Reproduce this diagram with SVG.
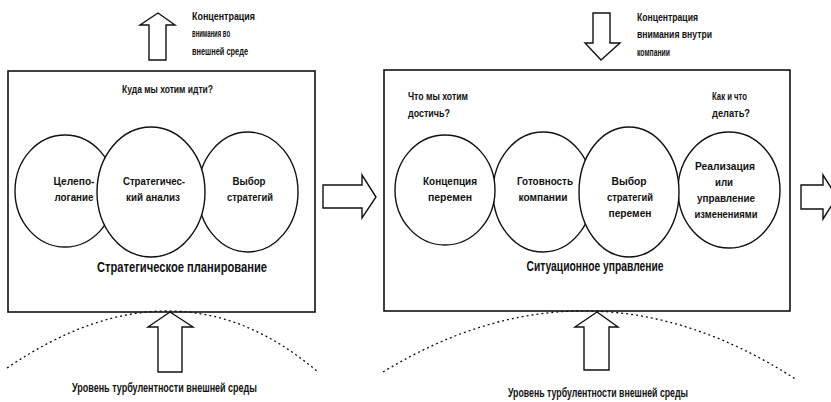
<svg xmlns="http://www.w3.org/2000/svg" width="831" height="402" viewBox="0 0 831 402">
  <style>
    .frame { fill: #fff; stroke: #111; stroke-width: 1.6; }
    .oval { fill: #fff; stroke: #111; stroke-width: 1.4; }
    .arrow { fill: #fff; stroke: #111; stroke-width: 1.4; stroke-linejoin: miter; }
    .wave { fill: none; stroke: #111; stroke-width: 1.3; stroke-dasharray: 2 3; }
    text { font-family: "Liberation Sans Narrow", "Liberation Sans", Arial, sans-serif; font-weight: bold; fill: #111; }
    .note { font-size: 11px; }
    .lbl { font-size: 11.5px; text-anchor: middle; }
    .q { font-size: 11.5px; }
    .title { font-size: 14px; text-anchor: middle; }
    .foot { font-size: 12px; text-anchor: middle; }
  </style>

  <rect width="831" height="402" fill="#fff"/>

  <!-- Strategic planning block -->
  <g id="planning">
    <rect class="frame" x="8" y="71" width="307" height="241"/>
    <text class="q" x="167.5" y="93" text-anchor="middle" textLength="91" lengthAdjust="spacingAndGlyphs">Куда мы хотим идти?</text>
    <g id="goal-setting">
      <ellipse class="oval" cx="65" cy="191" rx="50" ry="56"/>
      <text class="lbl" x="74" y="185" textLength="41" lengthAdjust="spacingAndGlyphs">Целепо-</text>
      <text class="lbl" x="74" y="201" textLength="39" lengthAdjust="spacingAndGlyphs">логание</text>
    </g>
    <g id="strategy-choice">
      <ellipse class="oval" cx="248" cy="192" rx="50" ry="60"/>
      <text class="lbl" x="249" y="185" textLength="33" lengthAdjust="spacingAndGlyphs">Выбор</text>
      <text class="lbl" x="250" y="201" textLength="46" lengthAdjust="spacingAndGlyphs">стратегий</text>
    </g>
    <g id="strategic-analysis">
      <ellipse class="oval" cx="151" cy="192" rx="54" ry="65"/>
      <text class="lbl" x="154" y="185" textLength="62" lengthAdjust="spacingAndGlyphs">Стратегичес-</text>
      <text class="lbl" x="153" y="201" textLength="54" lengthAdjust="spacingAndGlyphs">кий анализ</text>
    </g>
    <text class="title" x="182" y="272" textLength="170" lengthAdjust="spacingAndGlyphs">Стратегическое планирование</text>
  </g>

  <!-- Situational management block -->
  <g id="situational">
    <rect class="frame" x="384" y="70" width="406" height="241"/>
    <text class="q" x="408" y="100" textLength="60" lengthAdjust="spacingAndGlyphs">Что мы хотим</text>
    <text class="q" x="408" y="117" textLength="42" lengthAdjust="spacingAndGlyphs">достичь?</text>
    <text class="q" x="712" y="100" textLength="35" lengthAdjust="spacingAndGlyphs">Как и что</text>
    <text class="q" x="712" y="117" textLength="38" lengthAdjust="spacingAndGlyphs">делать?</text>
    <g id="readiness">
      <ellipse class="oval" cx="543" cy="192" rx="50" ry="60"/>
      <text class="lbl" x="545" y="185" textLength="56" lengthAdjust="spacingAndGlyphs">Готовность</text>
      <text class="lbl" x="543" y="201" textLength="49" lengthAdjust="spacingAndGlyphs">компании</text>
    </g>
    <g id="implementation">
      <ellipse class="oval" cx="729" cy="190" rx="51" ry="58"/>
      <text class="lbl" x="725" y="170" textLength="60" lengthAdjust="spacingAndGlyphs">Реализация</text>
      <text class="lbl" x="724" y="186" textLength="18" lengthAdjust="spacingAndGlyphs">или</text>
      <text class="lbl" x="726" y="202" textLength="58" lengthAdjust="spacingAndGlyphs">управление</text>
      <text class="lbl" x="726" y="218" textLength="63" lengthAdjust="spacingAndGlyphs">изменениями</text>
    </g>
    <g id="change-concept">
      <ellipse class="oval" cx="445" cy="190" rx="50" ry="55"/>
      <text class="lbl" x="450" y="185" textLength="54" lengthAdjust="spacingAndGlyphs">Концепция</text>
      <text class="lbl" x="450" y="201" textLength="44" lengthAdjust="spacingAndGlyphs">перемен</text>
    </g>
    <g id="change-strategy">
      <ellipse class="oval" cx="629" cy="192" rx="50" ry="65"/>
      <text class="lbl" x="629" y="185" textLength="35" lengthAdjust="spacingAndGlyphs">Выбор</text>
      <text class="lbl" x="630" y="201" textLength="46" lengthAdjust="spacingAndGlyphs">стратегий</text>
      <text class="lbl" x="630" y="217" textLength="43" lengthAdjust="spacingAndGlyphs">перемен</text>
    </g>
    <text class="title" x="595" y="271" textLength="137" lengthAdjust="spacingAndGlyphs">Ситуационное управление</text>
  </g>

  <!-- dotted arcs: turbulence of the environment -->
  <path class="wave" d="M7,368 Q177.5,252 318,372"/>
  <path class="wave" d="M383,372 Q590,246 797,380"/>

  <!-- block arrows -->
  <g id="connectors">
    <!-- attention outward -->
    <polygon class="arrow" points="158,13 175,25 166,25 166,60 149,60 149,25 140,25"/>
    <!-- attention inward -->
    <polygon class="arrow" points="593,13 610,13 610,43 620,43 601,60 585,43 593,43"/>
    <!-- planning to situational management -->
    <polygon class="arrow" points="323,185 362,185 362,175 376,197 362,218 362,208 323,208"/>
    <!-- onward -->
    <polygon class="arrow" points="801,185 823,185 823,175 837,197 823,219 823,209 801,209"/>
    <!-- turbulence pressure -->
    <polygon class="arrow" points="170,312 193,327 182,327 182,372 158,372 158,327 148,327"/>
    <polygon class="arrow" points="597,312 618,327 609,327 609,370 584,370 584,327 575,327"/>
  </g>

  <!-- side notes -->
  <g id="notes">
    <text class="note" x="192" y="20" textLength="63" lengthAdjust="spacingAndGlyphs">Концентрация</text>
    <text class="note" x="192" y="37" textLength="38" lengthAdjust="spacingAndGlyphs">внимания во</text>
    <text class="note" x="192" y="55" textLength="56" lengthAdjust="spacingAndGlyphs">внешней среде</text>
    <text class="note" x="637" y="21" textLength="61" lengthAdjust="spacingAndGlyphs">Концентрация</text>
    <text class="note" x="637" y="38" textLength="75" lengthAdjust="spacingAndGlyphs">внимания внутри</text>
    <text class="note" x="637" y="56" textLength="33" lengthAdjust="spacingAndGlyphs">компании</text>
    <text class="foot" x="164.5" y="392" textLength="185" lengthAdjust="spacingAndGlyphs">Уровень турбулентности внешней среды</text>
    <text class="foot" x="598" y="397" textLength="180" lengthAdjust="spacingAndGlyphs">Уровень турбулентности внешней среды</text>
  </g>
</svg>
